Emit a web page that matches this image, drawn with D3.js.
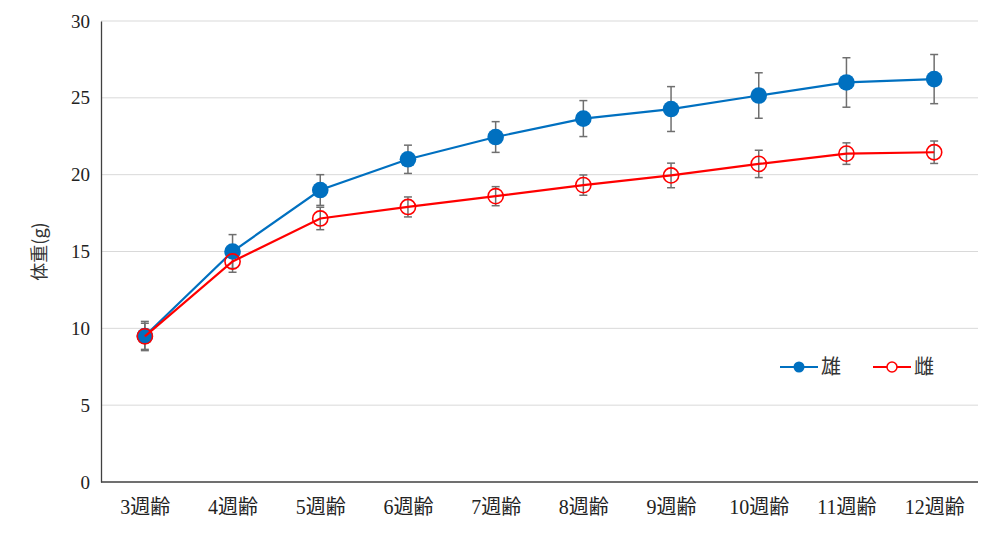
<!DOCTYPE html>
<html><head><meta charset="utf-8">
<script src="https://cdn.jsdelivr.net/npm/d3@7"></script>
<style>body{margin:0;background:#fff}</style>
</head><body>
<svg id="c" width="1000" height="535"></svg>
<script>
const categories = ["3週齢","4週齢","5週齢","6週齢","7週齢","8週齢","9週齢","10週齢","11週齢","12週齢"];
const maleMean = [9.5, 15.0, 19.0, 21.0, 22.45, 23.65, 24.27, 25.15, 26.0, 26.22];
const maleSD   = [0.95, 1.1, 1.0, 0.92, 1.0, 1.17, 1.46, 1.48, 1.61, 1.6];
const femaleMean = [9.48, 14.35, 17.15, 17.9, 18.6, 19.32, 19.95, 20.7, 21.37, 21.46];
const femaleSD   = [0.85, 0.7, 0.73, 0.65, 0.62, 0.66, 0.8, 0.89, 0.7, 0.73];
const yTicks = [0,5,10,15,20,25,30];
const seriesNames = ["雄","雌"];

const svg = d3.select("#c");
const L=101, R=978, T=21, B=482;
const x = d3.scalePoint().domain(categories).range([L,R]).padding(0.5);
const y = d3.scaleLinear().domain([0,30]).range([B,T]);

// grid
svg.append("g").selectAll("line").data(yTicks.filter(d=>d>0)).join("line")
  .attr("x1",L).attr("x2",R).attr("y1",d=>y(d)).attr("y2",d=>y(d))
  .attr("stroke","#d9d9d9").attr("stroke-width",1);

// axes
const ya = svg.append("g").attr("transform",`translate(${L},0)`)
  .call(d3.axisLeft(y).tickValues(yTicks).tickSize(0).tickPadding(11));
ya.select(".domain").attr("stroke","#404040").attr("stroke-width",1.3);
ya.selectAll("text").attr("font-family","'Liberation Serif',serif").attr("font-size",19).attr("fill","#222");

const xa = svg.append("g").attr("transform",`translate(0,${B})`)
  .call(d3.axisBottom(x).tickSize(0).tickPadding(18));
xa.select(".domain").attr("stroke","#404040").attr("stroke-width",1.3).attr("d",`M${L},0H${R}`);
xa.selectAll("text").attr("font-family","'Liberation Serif','Noto Sans CJK JP',serif").attr("font-size",20).attr("fill","#222");

svg.append("text").attr("transform",`translate(46,${y(15)}) rotate(-90)`)
  .attr("text-anchor","middle").attr("font-family","'Noto Sans CJK JP',sans-serif")
  .attr("font-size",18).attr("fill","#333").text("体重(g)");

function errorBars(means, sds){
  const g = svg.append("g").attr("stroke","#6f6f6f").attr("stroke-width",1.5).attr("fill","none");
  categories.forEach((c,i)=>{
    const cx=x(c), y1=y(means[i]+sds[i]), y2=y(means[i]-sds[i]);
    g.append("line").attr("x1",cx).attr("x2",cx).attr("y1",y1).attr("y2",y2);
    g.append("line").attr("x1",cx-4).attr("x2",cx+4).attr("y1",y1).attr("y2",y1);
    g.append("line").attr("x1",cx-4).attr("x2",cx+4).attr("y1",y2).attr("y2",y2);
  });
}
errorBars(maleMean, maleSD);
errorBars(femaleMean, femaleSD);

const line = d3.line().x((d,i)=>x(categories[i])).y(d=>y(d));
svg.append("path").datum(maleMean).attr("d",line).attr("fill","none").attr("stroke","#0070C0").attr("stroke-width",2.2);
svg.append("g").selectAll("circle").data(maleMean).join("circle")
  .attr("cx",(d,i)=>x(categories[i])).attr("cy",d=>y(d)).attr("r",8.3).attr("fill","#0070C0");

svg.append("path").datum(femaleMean).attr("d",line).attr("fill","none").attr("stroke","#FF0000").attr("stroke-width",2.2);
svg.append("g").selectAll("circle").data(femaleMean).join("circle")
  .attr("cx",(d,i)=>x(categories[i])).attr("cy",d=>y(d)).attr("r",7.6).attr("fill","none")
  .attr("stroke","#FF0000").attr("stroke-width",1.6);

// legend
const lg = svg.append("g");
const ly = 367;
lg.append("line").attr("x1",780).attr("x2",818).attr("y1",ly).attr("y2",ly).attr("stroke","#0070C0").attr("stroke-width",2.2);
lg.append("circle").attr("cx",799).attr("cy",ly).attr("r",5.5).attr("fill","#0070C0");
lg.append("text").attr("x",821).attr("y",ly+7).attr("font-family","'Noto Sans CJK JP',sans-serif").attr("font-size",20).attr("fill","#333").text(seriesNames[0]);
lg.append("line").attr("x1",873).attr("x2",911).attr("y1",ly).attr("y2",ly).attr("stroke","#FF0000").attr("stroke-width",2.2);
lg.append("circle").attr("cx",892).attr("cy",ly).attr("r",5).attr("fill","#fff").attr("stroke","#FF0000").attr("stroke-width",1.5);
lg.append("text").attr("x",914).attr("y",ly+7).attr("font-family","'Noto Sans CJK JP',sans-serif").attr("font-size",20).attr("fill","#333").text(seriesNames[1]);
</script>
</body></html>
